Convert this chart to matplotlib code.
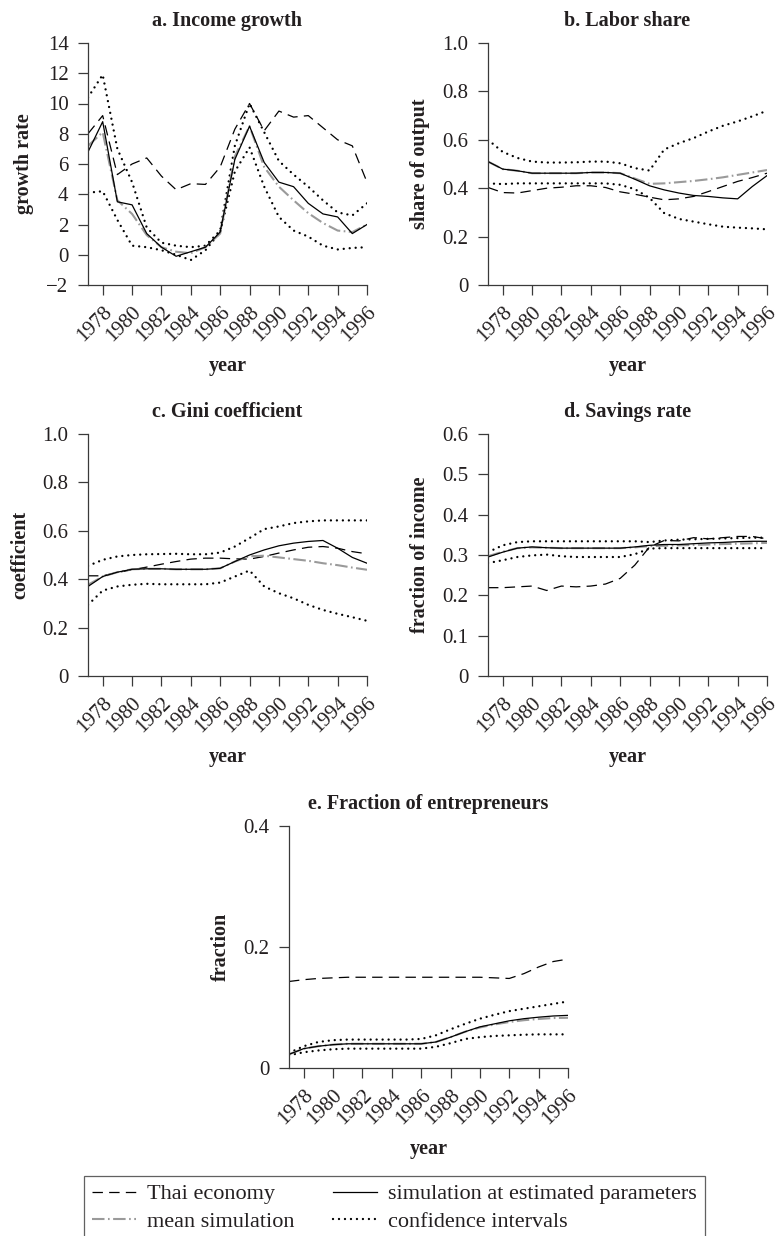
import matplotlib
matplotlib.use("Agg")
import matplotlib.pyplot as plt
from matplotlib.lines import Line2D
from matplotlib.transforms import ScaledTranslation

plt.rcParams['font.family'] = ['Liberation Serif', 'DejaVu Serif']
plt.rcParams['lines.scale_dashes'] = False
plt.rcParams['axes.unicode_minus'] = True

years = list(range(1977, 1997))
xticks = list(range(1978, 1997, 2))

# a. Income growth
a_thai = [8.0, 9.2, 5.3, 6.0, 6.4, 5.2, 4.3, 4.7, 4.65, 5.8, 8.3, 10.0, 8.2, 9.5, 9.1, 9.2, 8.4, 7.6, 7.2, 4.8]
a_sim = [6.8, 8.8, 3.5, 3.3, 1.4, 0.5, -0.1, 0.2, 0.5, 1.5, 6.3, 8.5, 6.1, 4.8, 4.5, 3.4, 2.7, 2.5, 1.4, 2.0]
a_mean = [7.2, 8.1, 3.6, 2.7, 1.3, 0.5, 0.2, 0.1, 0.5, 1.4, 6.5, 8.5, 5.8, 4.5, 3.6, 2.75, 2.1, 1.6, 1.5, 2.0]
a_ci_hi = [10.4, 11.9, 7.0, 4.8, 1.8, 0.8, 0.6, 0.5, 0.6, 1.6, 7.2, 10.0, 8.1, 6.2, 5.3, 4.5, 3.6, 2.8, 2.6, 3.4]
a_ci_lo = [4.1, 4.2, 2.3, 0.6, 0.5, 0.3, 0.0, -0.35, 0.3, 1.5, 5.5, 7.1, 4.5, 2.5, 1.6, 1.2, 0.6, 0.35, 0.45, 0.5]

# b. Labor share
b_thai = [0.403, 0.382, 0.38, 0.39, 0.40, 0.404, 0.41, 0.41, 0.403, 0.385, 0.375, 0.363, 0.352, 0.356, 0.366, 0.386, 0.407, 0.428, 0.444, 0.462]
b_sim = [0.51, 0.479, 0.472, 0.462, 0.462, 0.462, 0.462, 0.465, 0.465, 0.462, 0.437, 0.41, 0.393, 0.38, 0.37, 0.366, 0.36, 0.356, 0.407, 0.452]
b_mean = [0.51, 0.479, 0.472, 0.462, 0.462, 0.462, 0.462, 0.465, 0.465, 0.462, 0.44, 0.418, 0.42, 0.425, 0.43, 0.437, 0.445, 0.455, 0.465, 0.475]
b_ci_hi = [0.60, 0.55, 0.525, 0.51, 0.506, 0.506, 0.507, 0.51, 0.51, 0.503, 0.483, 0.473, 0.56, 0.586, 0.607, 0.634, 0.658, 0.676, 0.697, 0.72]
b_ci_lo = [0.42, 0.417, 0.42, 0.42, 0.42, 0.42, 0.42, 0.42, 0.42, 0.414, 0.396, 0.36, 0.297, 0.273, 0.262, 0.251, 0.241, 0.237, 0.234, 0.23]

# c. Gini coefficient
c_thai = [0.414, 0.414, 0.428, 0.439, 0.45, 0.462, 0.473, 0.483, 0.487, 0.487, 0.484, 0.483, 0.494, 0.508, 0.521, 0.532, 0.535, 0.528, 0.514, 0.505]
c_sim = [0.37, 0.411, 0.429, 0.441, 0.443, 0.443, 0.441, 0.441, 0.441, 0.445, 0.473, 0.50, 0.521, 0.538, 0.549, 0.556, 0.56, 0.528, 0.49, 0.466]
c_mean = [0.377, 0.411, 0.429, 0.441, 0.443, 0.443, 0.441, 0.441, 0.441, 0.445, 0.473, 0.495, 0.497, 0.49, 0.483, 0.476, 0.466, 0.458, 0.448, 0.439]
c_ci_hi = [0.455, 0.48, 0.494, 0.50, 0.503, 0.504, 0.505, 0.503, 0.503, 0.51, 0.535, 0.57, 0.607, 0.618, 0.632, 0.639, 0.643, 0.643, 0.643, 0.643]
c_ci_lo = [0.294, 0.353, 0.37, 0.377, 0.381, 0.379, 0.379, 0.379, 0.379, 0.386, 0.411, 0.436, 0.37, 0.342, 0.321, 0.294, 0.273, 0.257, 0.243, 0.228]

# d. Savings rate
d_thai = [0.219, 0.219, 0.221, 0.223, 0.212, 0.223, 0.221, 0.223, 0.228, 0.242, 0.275, 0.32, 0.336, 0.335, 0.343, 0.34, 0.343, 0.346, 0.346, 0.34]
d_sim = [0.295, 0.307, 0.317, 0.32, 0.318, 0.317, 0.317, 0.317, 0.317, 0.317, 0.32, 0.324, 0.326, 0.326, 0.328, 0.33, 0.331, 0.333, 0.334, 0.334]
d_mean = [0.297, 0.308, 0.317, 0.319, 0.318, 0.317, 0.317, 0.317, 0.317, 0.317, 0.319, 0.322, 0.323, 0.324, 0.325, 0.326, 0.327, 0.328, 0.329, 0.33]
d_ci_hi = [0.307, 0.324, 0.332, 0.334, 0.334, 0.334, 0.334, 0.334, 0.334, 0.334, 0.334, 0.332, 0.336, 0.338, 0.339, 0.34, 0.341, 0.342, 0.343, 0.343]
d_ci_lo = [0.28, 0.287, 0.295, 0.299, 0.301, 0.297, 0.295, 0.295, 0.295, 0.295, 0.302, 0.316, 0.317, 0.317, 0.317, 0.317, 0.317, 0.317, 0.317, 0.317]

# e. Fraction of entrepreneurs
e_thai = [0.143, 0.146, 0.148, 0.149, 0.15, 0.15, 0.15, 0.15, 0.15, 0.15, 0.15, 0.15, 0.15, 0.15, 0.149, 0.148, 0.156, 0.167, 0.176, 0.18]
e_sim = [0.0226, 0.032, 0.036, 0.0386, 0.04, 0.04, 0.04, 0.04, 0.04, 0.04, 0.043, 0.051, 0.06, 0.068, 0.073, 0.078, 0.0815, 0.084, 0.086, 0.087]
e_mean = [0.0226, 0.032, 0.036, 0.0386, 0.04, 0.04, 0.04, 0.04, 0.04, 0.04, 0.043, 0.051, 0.06, 0.067, 0.072, 0.076, 0.079, 0.081, 0.0826, 0.083]
e_ci_hi = [0.025, 0.036, 0.043, 0.046, 0.047, 0.047, 0.047, 0.047, 0.047, 0.048, 0.054, 0.064, 0.073, 0.0815, 0.088, 0.094, 0.098, 0.102, 0.106, 0.11]
e_ci_lo = [0.021, 0.026, 0.029, 0.031, 0.032, 0.032, 0.032, 0.032, 0.032, 0.032, 0.035, 0.041, 0.048, 0.051, 0.053, 0.054, 0.055, 0.0556, 0.0556, 0.0556]

titles = ["a. Income growth", "b. Labor share", "c. Gini coefficient",
          "d. Savings rate", "e. Fraction of entrepreneurs"]
ylabels = ["growth rate", "share of output", "coefficient",
           "fraction of income", "fraction"]
a_yticks = [-2, 0, 2, 4, 6, 8, 10, 12, 14]
a_ylabels = ["\u22122", "0", "2", "4", "6", "8", "10", "12", "14"]
b_yticks = [0, 0.2, 0.4, 0.6, 0.8, 1.0]
b_ylabels = ["0", "0.2", "0.4", "0.6", "0.8", "1.0"]
d_yticks = [0, 0.1, 0.2, 0.3, 0.4, 0.5, 0.6]
d_ylabels = ["0", "0.1", "0.2", "0.3", "0.4", "0.5", "0.6"]
e_yticks = [0, 0.2, 0.4]
e_ylabels = ["0", "0.2", "0.4"]
legend_labels = ["Thai economy", "mean simulation",
                 "simulation at estimated parameters", "confidence intervals"]

TXT = '#231f20'
GRAY = '#9a9a9a'
W, H = 778, 1236

fig = plt.figure(figsize=(W / 100, H / 100), dpi=100)


def px_axes(x0, x1, ytop, ybot):
    return fig.add_axes([x0 / W, 1 - ybot / H, (x1 - x0) / W, (ybot - ytop) / H])


sty_thai = dict(color='black', lw=0.9, linestyle=(0, (7.5, 4.5)))
sty_sim = dict(color='black', lw=0.9, linestyle='-')
sty_mean = dict(color=GRAY, lw=1.5, linestyle=(0, (9, 2.5, 1.2, 2.5)))
sty_ci = dict(color='black', lw=1.7, linestyle=(0, (0.01, 4.3)), dash_capstyle='round')

panels = [
    (px_axes(88, 367, 43, 285), a_thai, a_sim, a_mean, a_ci_hi, a_ci_lo, (-2, 14), a_yticks, a_ylabels),
    (px_axes(488, 767, 43, 285), b_thai, b_sim, b_mean, b_ci_hi, b_ci_lo, (0, 1), b_yticks, b_ylabels),
    (px_axes(88, 367, 434, 676), c_thai, c_sim, c_mean, c_ci_hi, c_ci_lo, (0, 1), b_yticks, b_ylabels),
    (px_axes(488, 767, 434, 676), d_thai, d_sim, d_mean, d_ci_hi, d_ci_lo, (0, 0.6), d_yticks, d_ylabels),
    (px_axes(289, 568, 826, 1068), e_thai, e_sim, e_mean, e_ci_hi, e_ci_lo, (0, 0.4), e_yticks, e_ylabels),
]

shift = ScaledTranslation(-8 / 100, 0, fig.dpi_scale_trans)

for i, (ax, thai, sim, mean, hi, lo, ylim, yt, ytl) in enumerate(panels):
    ax.plot(years, thai, **sty_thai)
    ax.plot(years, hi, **sty_ci)
    ax.plot(years, lo, **sty_ci)
    ax.plot(years, mean, **sty_mean)
    ax.plot(years, sim, **sty_sim)
    ax.set_xlim(1977, 1996)
    ax.set_ylim(*ylim)
    ax.set_xticks(xticks)
    ax.set_xticklabels([str(y) for y in xticks], rotation=45, ha='right', va='top',
                       rotation_mode='anchor', fontsize=15, color=TXT)
    for lab in ax.get_xticklabels():
        lab.set_transform(lab.get_transform() + shift)
    ax.set_yticks(yt)
    ax.set_yticklabels(ytl, fontsize=15, color=TXT)
    for s in ['top', 'right']:
        ax.spines[s].set_visible(False)
    for s in ['left', 'bottom']:
        ax.spines[s].set_color('#3a3a3a')
        ax.spines[s].set_linewidth(0.9)
    ax.tick_params(axis='both', direction='out', length=7.5, width=0.9, color='#3a3a3a')
    ax.tick_params(axis='x', pad=5)
    ax.tick_params(axis='y', pad=6.5)
    ax.set_title(titles[i], fontsize=14.5, fontweight='bold', color=TXT, pad=12)
    ax.set_ylabel(ylabels[i], fontsize=14.5, fontweight='bold', color=TXT, labelpad=9)
    ax.set_xlabel("year", fontsize=14.5, fontweight='bold', color=TXT, labelpad=8)
    ax.patch.set_visible(False)

handles = [Line2D([], [], **sty_thai), Line2D([], [], **sty_mean),
           Line2D([], [], **sty_sim), Line2D([], [], **sty_ci)]
leg = fig.legend(handles, legend_labels, ncol=2, loc='upper center',
                 bbox_to_anchor=(394.5 / W, 1 - 1176 / H), bbox_transform=fig.transFigure,
                 frameon=True, fancybox=False, fontsize=16, handlelength=2.0,
                 handletextpad=0.5, columnspacing=1.7, labelspacing=0.3,
                 borderpad=0.35, borderaxespad=0)
leg.get_frame().set_edgecolor('#3a3a3a')
leg.get_frame().set_linewidth(0.9)
for t in leg.get_texts():
    t.set_color(TXT)

fig.savefig("out.png", dpi=100)
